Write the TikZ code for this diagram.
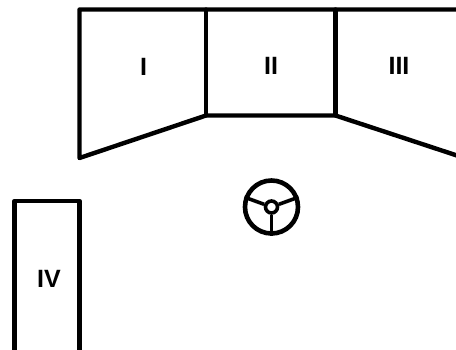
\documentclass[tikz,border=0pt]{standalone}
\usepackage{fontspec}
\setmainfont{Liberation Sans}
\begin{document}
\begin{tikzpicture}[
    x=1pt, y=-1pt,
    every node/.style={font=\fontsize{25}{25}\selectfont\bfseries},
    wall/.style={draw=black, line width=4.4pt, line join=round, line cap=round},
    wheel/.style={draw=black, line width=4.6pt},
    spoke/.style={draw=black, line width=3.6pt},
]
  \useasboundingbox (0,0) rectangle (456,349);
  % corners of the panels
  \coordinate (topleft) at (79.5,9.5);
  \coordinate (topmidl) at (206,9.5);
  \coordinate (topmidr) at (335.5,9.5);
  \coordinate (topright) at (460,9.5);
  \coordinate (lowleft) at (79.5,158);
  \coordinate (lowmidl) at (206,115.5);
  \coordinate (lowmidr) at (335.5,115.5);
  \coordinate (lowright) at (460,156.5);
  \draw[wall] (topright) -- (topleft) -- (lowleft) -- (lowmidl) -- (lowmidr) -- (lowright);
  \draw[wall] (topmidl) -- (lowmidl);
  \draw[wall] (topmidr) -- (lowmidr);
  % side panel
  \coordinate (sidea) at (14.5,353);
  \coordinate (sideb) at (14.5,201);
  \coordinate (sidec) at (79.5,201);
  \coordinate (sided) at (79.5,353);
  \draw[wall] (sidea) -- (sideb) -- (sidec) -- (sided);
  % labels
  \node (one) at (143.5,66.5) {I};
  \node (two) at (271,66) {II};
  \node (three) at (399,66) {III};
  \node (four) at (49,279) {IV};
  % steering wheel
  \node[circle, wheel, inner sep=0pt, minimum size=53pt] (rim) at (271.5,207) {};
  \node[circle, spoke, inner sep=0pt, minimum size=12pt] (hub) at (271.5,207) {};
  \draw[spoke] (hub) -- (rim.south);
  \draw[spoke] (hub) -- (rim.160);
  \draw[spoke] (hub) -- (rim.20);
\end{tikzpicture}
\end{document}
